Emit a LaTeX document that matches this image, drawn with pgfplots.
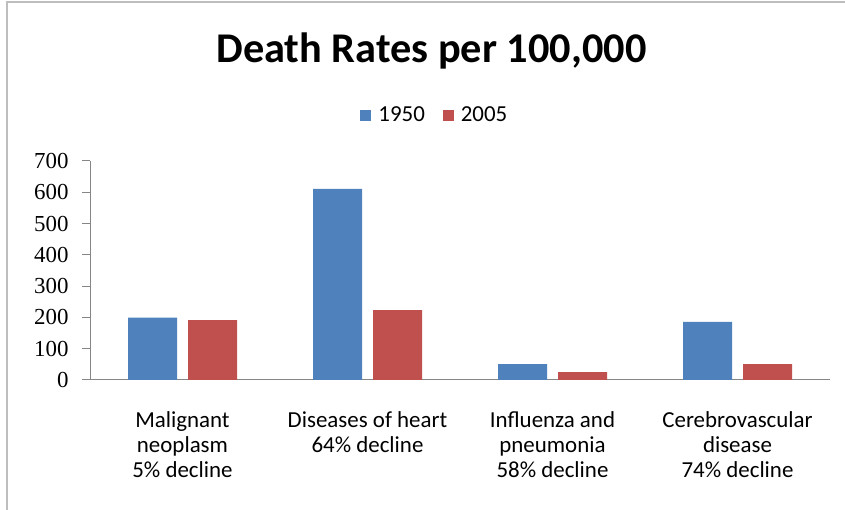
\documentclass[border=0pt]{standalone}
\usepackage{pgfplots}
\pgfplotsset{compat=1.18}
\usepackage{fontspec}
\setmainfont{Carlito}
\newfontfamily\tickfont{Liberation Serif}
\definecolor{cblue}{RGB}{79,129,189}
\definecolor{cred}{RGB}{192,80,77}
\definecolor{axgray}{RGB}{134,134,134}
\definecolor{framegray}{RGB}{190,190,190}
\begin{document}
\begin{tikzpicture}
\useasboundingbox (0,0) rectangle (845bp,510bp);
\draw[framegray, line width=1.5bp] (7bp,0) -- (7bp,508bp) -- (845bp,508bp);
\node[font=\fontsize{42.5}{46}\selectfont\bfseries, anchor=base] at (431.5bp,447bp) {Death Rates per 100,000};
\begin{axis}[
  at={(90bp,130bp)}, anchor=south west,
  scale only axis, width=740bp, height=219bp,
  ybar=11bp, bar width=49bp,
  xmin=-0.5, xmax=3.5, ymin=0, ymax=700,
  axis x line*=bottom, axis y line*=left,
  axis line style={axgray, line width=1bp, -},
  xtick={0,1,2,3},
  xticklabels={{Malignant\\neoplasm\\5\% decline},{Diseases of heart\\64\% decline},{Influenza and\\pneumonia\\58\% decline},{Cerebrovascular\\disease\\74\% decline}},
  xtick style={draw=none},
  xticklabel style={font=\fontsize{23}{25}\selectfont, align=center, anchor=north, yshift=-20bp},
  ytick={0,100,...,700},
  ytick style={axgray, line width=1bp},
  tick align=outside, major tick length=8bp,
  /pgf/number format/assume math mode=true,
  yticklabel style={font=\tickfont\fontsize{23}{24}\selectfont, xshift=-10bp},
  legend style={draw=none, at={(0.466,1.21)}, anchor=center, legend columns=2,
    font=\fontsize{23}{25}\selectfont, /tikz/every even column/.append style={column sep=16bp}},
  legend image code/.code={\fill[#1] (0bp,-5.5bp) rectangle (11bp,5.5bp);},
]
\addplot[fill=cblue, draw=none] coordinates {(0,199) (1,611) (2,51) (3,186)};
\addplot[fill=cred, draw=none] coordinates {(0,191) (1,223) (2,25) (3,51)};
\legend{\hspace{5bp}1950,\hspace{5bp}2005}
\end{axis}
\end{tikzpicture}
\end{document}
